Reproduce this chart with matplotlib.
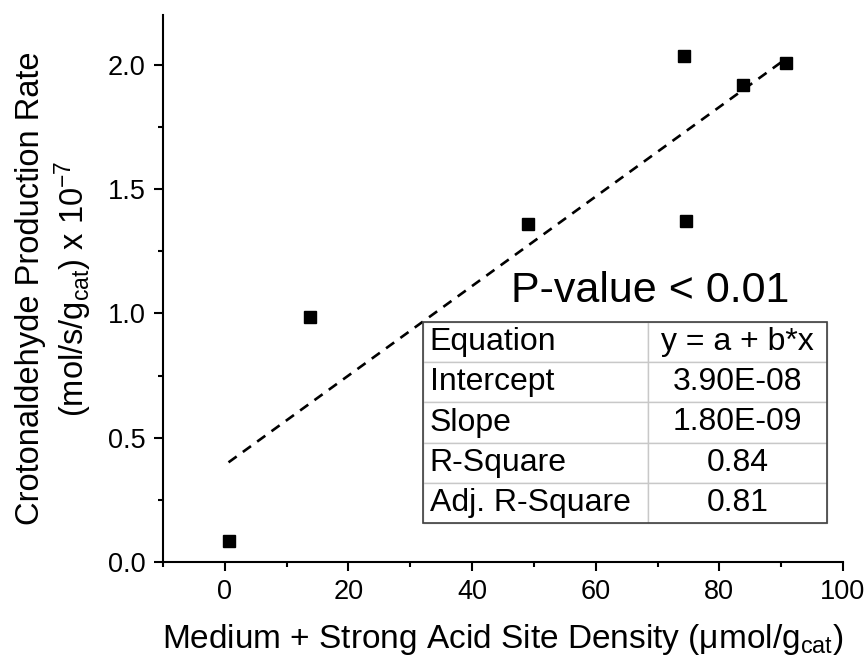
"""Crotonaldehyde production rate vs medium + strong acid site density."""
import numpy as np
import matplotlib
matplotlib.use("Agg")
import matplotlib.pyplot as plt
from matplotlib.patches import Rectangle

plt.rcParams["font.family"] = ["Liberation Sans", "DejaVu Sans"]
plt.rcParams["mathtext.fontset"] = "custom"
plt.rcParams["mathtext.rm"] = "Liberation Sans"
plt.rcParams["mathtext.it"] = "Liberation Sans:italic"
plt.rcParams["mathtext.bf"] = "Liberation Sans:bold"

# data (rate in units of 1e-7 mol/s/g_cat)
acid_density = [0.6, 13.8, 49.1, 74.3, 74.6, 83.9, 90.7]
rate = [0.085, 0.987, 1.36, 2.036, 1.37, 1.92, 2.007]

# linear fit parameters (from the table)
fit_a = 3.90e-08
fit_b = 1.80e-09

table_rows = [
    ["Equation", "y = a + b*x"],
    ["Intercept", "3.90E-08"],
    ["Slope", "1.80E-09"],
    ["R-Square", "0.84"],
    ["Adj. R-Square", "0.81"],
]


def main():
    fig = plt.figure(figsize=(8.68, 6.6), dpi=100)
    ax = fig.add_axes([163 / 868, 98 / 660, 680 / 868, 547 / 660])

    ax.plot(acid_density, rate, "s", color="black", markersize=8.5, zorder=3)

    xfit = np.array([min(acid_density), max(acid_density)])
    yfit = (fit_a + fit_b * xfit) / 1e-7
    ax.plot(xfit, yfit, color="black", linewidth=1.9,
            linestyle=(0, (3.8, 2.9)), zorder=2)

    ax.set_xlim(-10, 100)
    ax.set_ylim(0, 2.2)
    ax.set_xticks([0, 20, 40, 60, 80, 100])
    ax.set_xticks([-10, 10, 30, 50, 70, 90], minor=True)
    ax.set_yticks([0.0, 0.5, 1.0, 1.5, 2.0])
    ax.set_yticks([0.25, 0.75, 1.25, 1.75], minor=True)
    ax.set_yticklabels(["0.0", "0.5", "1.0", "1.5", "2.0"])

    for side in ["top", "right"]:
        ax.spines[side].set_visible(False)
    for side in ["left", "bottom"]:
        ax.spines[side].set_linewidth(1.5)
    ax.tick_params(which="major", direction="out", length=6.5, width=1.5,
                   labelsize=19.5, pad=6)
    ax.tick_params(which="minor", direction="out", length=3.5, width=1.5)

    ax.set_xlabel(r"Medium + Strong Acid Site Density (μmol/g$_{\mathrm{cat}}$)",
                  fontsize=24, labelpad=12)
    ax.set_ylabel("Crotonaldehyde Production Rate\n"
                  r"(mol/s/g$_{\mathrm{cat}}$) x 10$^{-7}$",
                  fontsize=23.5, labelpad=10, linespacing=1.2)

    ax.text((650 - 163) / 680, (562 - 302) / 547, "P-value < 0.01",
            transform=ax.transAxes, fontsize=31, ha="center", va="baseline")

    # statistics table
    x0, x1 = (423 - 163) / 680, (827 - 163) / 680
    y0, y1 = (562 - 523) / 547, (562 - 322) / 547
    tbl = ax.table(cellText=table_rows, cellLoc="center",
                   colWidths=[0.557, 0.443],
                   bbox=[x0, y0, x1 - x0, y1 - y0], zorder=4)
    tbl.auto_set_font_size(False)
    for (r, c), cell in tbl.get_celld().items():
        cell.set_edgecolor("#c8c8c8")
        cell.set_linewidth(1.0)
        cell.set_facecolor("white")
        cell.get_text().set_fontsize(23)
        if c == 0:
            cell.get_text().set_ha("left")
            cell.PAD = 0.03
            cell._loc = "left"
    ax.add_patch(Rectangle((x0, y0), x1 - x0, y1 - y0, transform=ax.transAxes,
                           fill=False, edgecolor="#404040", linewidth=1.2,
                           zorder=5, clip_on=False))

    fig.savefig("out.png", dpi=100)
    plt.close(fig)


if __name__ == "__main__":
    main()
